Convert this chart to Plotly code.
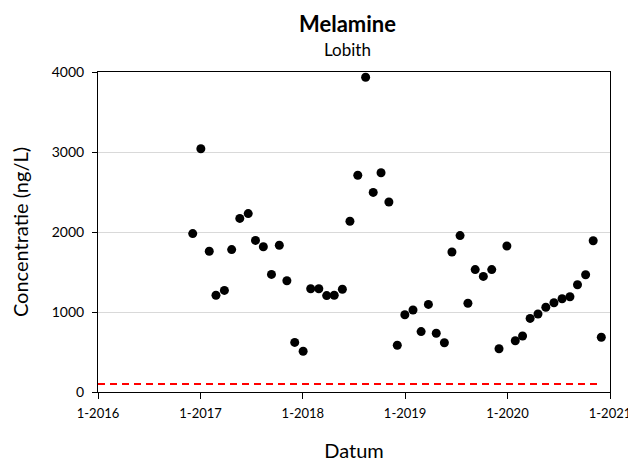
import plotly.graph_objects as go

# sample dates (4-weekly) and melamine concentration at Lobith, ng/L
dates = [
    "2016-12-04", "2017-01-02", "2017-02-01", "2017-02-25", "2017-03-27",
    "2017-04-22", "2017-05-21", "2017-06-20", "2017-07-16", "2017-08-13",
    "2017-09-11", "2017-10-09", "2017-11-05", "2017-12-03", "2018-01-02",
    "2018-01-29", "2018-02-27", "2018-03-27", "2018-04-23", "2018-05-22",
    "2018-06-18", "2018-07-16", "2018-08-13", "2018-09-09", "2018-10-07",
    "2018-11-04", "2018-12-04", "2018-12-31", "2019-01-29", "2019-02-27",
    "2019-03-25", "2019-04-22", "2019-05-21", "2019-06-17", "2019-07-16",
    "2019-08-13", "2019-09-08", "2019-10-07", "2019-11-06", "2019-12-02",
    "2019-12-30", "2020-01-29", "2020-02-24", "2020-03-22", "2020-04-19",
    "2020-05-17", "2020-06-15", "2020-07-14", "2020-08-11", "2020-09-07",
    "2020-10-06", "2020-11-02", "2020-12-01",
]
concentratie = [
    1980, 3040, 1760, 1210, 1270,
    1780, 2170, 2230, 1895, 1815,
    1470, 1835, 1390, 620, 510,
    1290, 1290, 1205, 1210, 1285,
    2135, 2710, 3935, 2495, 2740,
    2375, 585, 965, 1025, 755,
    1095, 735, 615, 1750, 1955,
    1110, 1530, 1445, 1530, 540,
    1825, 640, 700, 920, 975,
    1060, 1115, 1165, 1190, 1340,
    1465, 1890, 685,
]

# reference level
norm_dates = ["2016-01-01", "2020-12-01"]
norm_value = [100, 100]

font = "Lato"

trace1 = go.Scatter(x=dates, y=concentratie, mode="markers",
                    marker={'color': 'black', 'size': 9}, name="Melamine")
trace2 = go.Scatter(x=norm_dates, y=norm_value, mode="lines",
                    line={'color': 'red', 'width': 2, 'dash': '7px,5px'},
                    name="norm")

# page body adds an 8px margin, so the figure is 8px smaller on each side
layout = go.Layout(
    width=628, height=456,
    margin={'l': 90, 'r': 26, 't': 64, 'b': 72},
    paper_bgcolor='white', plot_bgcolor='white',
    showlegend=False,
    font={'family': font, 'size': 14, 'color': 'black'},
    xaxis={'type': 'date', 'range': ['2016-01-01', '2021-01-01'],
           'tick0': '2016-01-01', 'dtick': 'M12', 'tickformat': '%-m-%Y',
           'showgrid': False, 'showline': True, 'linecolor': 'black',
           'linewidth': 1, 'mirror': True, 'ticks': 'outside',
           'ticklen': 6, 'tickcolor': 'black', 'automargin': False,
           'ticklabelstandoff': 3, 'tickfont': {'size': 13},
           'title': {'text': 'Datum', 'font': {'size': 20}, 'standoff': 24},
           'zeroline': False},
    yaxis={'range': [0, 4000], 'dtick': 1000,
           'showgrid': True, 'gridcolor': '#d9d9d9',
           'showline': True, 'linecolor': 'black', 'linewidth': 1,
           'mirror': True, 'ticks': 'outside', 'ticklen': 5,
           'tickcolor': 'black', 'zeroline': False, 'automargin': False,
           'ticklabelstandoff': 5,
           'title': {'text': 'Concentratie (ng/L)', 'font': {'size': 20},
                     'standoff': 20}},
    annotations=[
        {'text': '<b>Melamine</b>', 'xref': 'paper', 'yref': 'paper',
         'x': 0.487, 'y': 1.153, 'showarrow': False,
         'font': {'size': 22}, 'yanchor': 'middle'},
        {'text': 'Lobith', 'xref': 'paper', 'yref': 'paper',
         'x': 0.487, 'y': 1.069, 'showarrow': False,
         'font': {'size': 17}, 'yanchor': 'middle'},
    ],
)

fig = go.Figure(data=[trace2, trace1], layout=layout)
fig.write_html("out.html")
